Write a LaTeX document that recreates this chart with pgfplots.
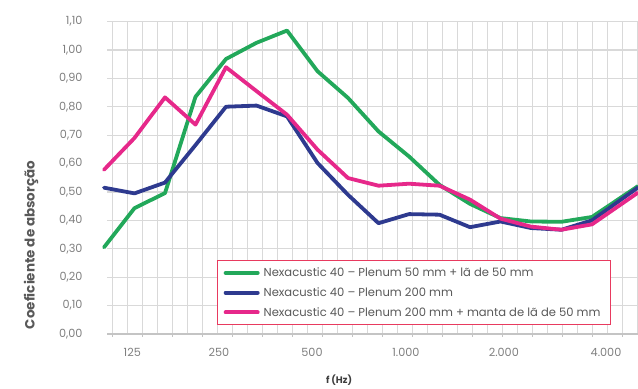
\documentclass[border=0pt]{standalone}
\usepackage{fontspec}
\setmainfont{Poppins}
\usepackage{pgfplots}
\pgfplotsset{compat=1.18}
\definecolor{cgreen}{HTML}{22A85A}
\definecolor{cblue}{HTML}{2E3A8F}
\definecolor{cpink}{HTML}{E6288A}
\definecolor{cborder}{HTML}{E83A5F}
\definecolor{cgrid}{HTML}{D9D9D9}
\definecolor{caxis}{HTML}{C4C4C4}
\definecolor{ctick}{HTML}{7F7F7F}
\definecolor{ctext}{HTML}{595959}
\begin{document}
\begin{tikzpicture}
\useasboundingbox (0,0) rectangle (638bp,389bp);
\begin{axis}[
  at={(107bp,55bp)}, anchor=south west,
  scale only axis, width=531bp, height=312.5bp,
  xmin=0.0984, xmax=17.508, ymin=0, ymax=1.1,
  clip=false,
  axis x line*=bottom, axis y line*=left,
  y axis line style={draw=none},
  x axis line style={draw=caxis, line width=1.3bp, -},
  xtick={0.2852,1.2688,...,17.1},
  minor xtick={0.7770,1.7606,...,17.6},
  xticklabels={},
  tick align=outside,
  major tick length=3bp, minor tick length=0pt,
  xtick style={draw=caxis, line width=1bp},
  ytick={0,0.1,0.2,0.3,0.4,0.5,0.6,0.7,0.8,0.9,1.0,1.1},
  ytick style={draw=none},
  grid=both,
  major grid style={draw=cgrid, line width=1.2bp},
  minor grid style={draw=cgrid, line width=1.2bp},
  yticklabel style={font=\fontsize{11.3}{11}\selectfont, color=ctick,
    /pgf/number format/fixed, /pgf/number format/fixed zerofill,
    /pgf/number format/precision=2, /pgf/number format/use comma,
    /pgf/number format/assume math mode=true, xshift=-18bp},
  extra x ticks={0.928,3.77,6.82,9.90,13.11,16.46},
  extra x tick labels={125,250,500,{1.000},{2.000},{4.000}},
  extra x tick style={grid=none, major tick length=0pt,
    tick label style={font=\fontsize{11.3}{11}\selectfont, color=ctick, yshift=-11bp}},
  xlabel={f (Hz)},
  xlabel style={at={(axis description cs:0.437,-0.147)}, anchor=center,
    font=\bfseries\fontsize{9.5}{10}\selectfont, color=ctext!70!black},
  ylabel={Coeficiente de absorção},
  ylabel style={at={(axis description cs:-0.1431,0.285)}, anchor=center,
    font=\bfseries\fontsize{13.5}{13}\selectfont, color=ctext},
  legend style={at={(axis description cs:0.2072,0.2364)}, anchor=north west,
    draw=cborder, line width=1.3bp, fill=white, inner xsep=6bp, inner ysep=5bp,
    font=\fontsize{11.6}{12}\selectfont, text=ctext, row sep=5.5bp,
    nodes={inner xsep=4bp}},
  legend cell align=left,
  legend image code/.code={\draw[#1, line width=4bp, line cap=round] (1bp,0bp) -- (33bp,0bp);},
]
\addplot[cgreen, line width=3.8bp, line cap=round, line join=round] coordinates {
(0,0.305) (1,0.443) (2,0.496) (3,0.835) (4,0.968) (5,1.025) (6,1.068) (7,0.925) (8,0.831) (9,0.713) (10,0.625) (11,0.525) (12,0.458) (13,0.408) (14,0.396) (15,0.395) (16,0.412) (17.5,0.52)};
\addlegendentry{Nexacustic 40 – Plenum 50 mm + lã de 50 mm}
\addplot[cblue, line width=3.8bp, line cap=round, line join=round] coordinates {
(0,0.515) (1,0.495) (2,0.533) (3,0.665) (4,0.800) (5,0.804) (6,0.766) (7,0.602) (8,0.49) (9,0.39) (10,0.422) (11,0.42) (12,0.376) (13,0.396) (14,0.373) (15,0.367) (16,0.400) (17.5,0.515)};
\addlegendentry{Nexacustic 40 – Plenum 200 mm}
\addplot[cpink, line width=3.8bp, line cap=round, line join=round] coordinates {
(0,0.578) (1,0.69) (2,0.833) (3,0.737) (4,0.939) (5,0.855) (6,0.772) (7,0.649) (8,0.549) (9,0.522) (10,0.529) (11,0.522) (12,0.473) (13,0.406) (14,0.378) (15,0.367) (16,0.386) (17.5,0.497)};
\addlegendentry{Nexacustic 40 – Plenum 200 mm + manta de lã de 50 mm}
\end{axis}
\end{tikzpicture}
\end{document}
